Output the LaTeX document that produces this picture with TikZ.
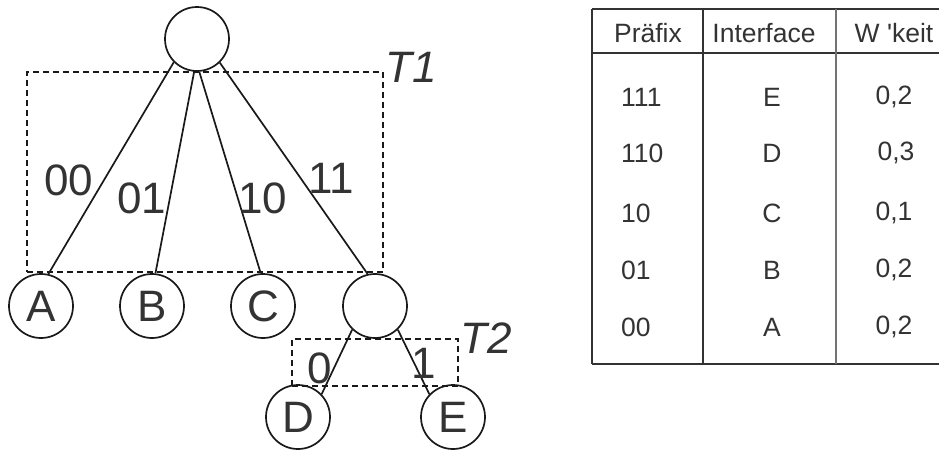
\documentclass[tikz,border=0pt]{standalone}
\usepackage{fontspec}
\setmainfont{Liberation Sans}
\begin{document}
\begin{tikzpicture}[x=1pt,y=-1pt,
  vertex/.style={draw=black!90,circle,line width=1.7pt,minimum size=64pt,inner sep=0pt,
    font=\fontsize{44}{44}\selectfont,text=black!80},
  edge/.style={draw=black!90,line width=1.7pt},
  region/.style={draw=black!90,line width=1.6pt,dash pattern=on 6pt off 4pt},
  elabel/.style={font=\fontsize{44}{44}\selectfont,text=black!80,inner sep=0pt},
  tlabel/.style={font=\fontsize{44}{44}\selectfont\itshape,text=black!80,inner sep=0pt},
  cell/.style={font=\fontsize{26.5}{26.5}\selectfont,text=black!80,inner sep=0pt},
  rule/.style={line width=1.3pt,draw=black!80}]
\useasboundingbox (0,0) rectangle (939,451);

% tree
\node[vertex] (root) at (197,39) {};
\node[vertex] (A) at (41,306) {A};
\node[vertex] (B) at (152,306) {B};
\node[vertex] (C) at (263,306) {C};
\node[vertex] (inner) at (375,306) {};
\node[vertex] (D) at (298,417) {D};
\node[vertex] (E) at (453,417) {E};

\draw[edge] (root.225) -- (A.77);
\draw[edge] (root.265) -- (B.84);
\draw[edge] (root.274) -- (C.94);
\draw[edge] (root.314) -- (inner.103);
\draw[edge] (inner.226) -- (D.44);
\draw[edge] (inner.314) -- (E.136);

% subtrie regions
\node[region,inner sep=0pt,minimum width=356pt,minimum height=200pt] (t1box) at (205,172) {};
\node[region,inner sep=0pt,minimum width=166pt,minimum height=47pt] (t2box) at (375,362.5) {};
\node[tlabel] (t1) at (411,67) {T1};
\node[tlabel] (t2) at (486,338) {T2};

% edge labels
\node[elabel] (l00) at (69,180) {00};
\node[elabel] (l01) at (142,198) {01};
\node[elabel] (l10) at (263,198) {10};
\node[elabel] (l11) at (331,178) {11};
\node[elabel] (l0) at (320,368) {0};
\node[elabel] (l1) at (424,363) {1};

% routing table
\draw[rule] (592,9) coordinate (tl) -- (939,9) coordinate (tr);
\draw[rule] (592,53) coordinate (hl) -- (939,53) coordinate (hr);
\draw[rule] (592,364) coordinate (bl) -- (939,364) coordinate (br);
\draw[rule] (tl) -- (bl);
\draw[rule] (703,9) coordinate (c1t) -- (703,364) coordinate (c1b);
\draw[rule,draw=black!55] (836,9) coordinate (c2t) -- (836,364) coordinate (c2b);

\node[cell] (h1) at (648,33) {Präfix};
\node[cell] (h2) at (764,33) {Interface};
\node[cell] (h3) at (894,33) {W \textquotesingle keit};

\node[cell,anchor=west] (p1) at (621,97) {111};
\node[cell,anchor=west] (p2) at (621,153) {110};
\node[cell,anchor=west] (p3) at (621,213) {10};
\node[cell,anchor=west] (p4) at (621,270) {01};
\node[cell,anchor=west] (p5) at (621,327) {00};

\node[cell] (i1) at (772,97) {E};
\node[cell] (i2) at (772,153) {D};
\node[cell] (i3) at (772,213) {C};
\node[cell] (i4) at (772,270) {B};
\node[cell] (i5) at (772,327) {A};

\node[cell] (w1) at (894,97) {0,2};
\node[cell] (w2) at (896,153) {0,3};
\node[cell] (w3) at (894,213) {0,1};
\node[cell] (w4) at (894,270) {0,2};
\node[cell] (w5) at (894,327) {0,2};
\end{tikzpicture}
\end{document}
